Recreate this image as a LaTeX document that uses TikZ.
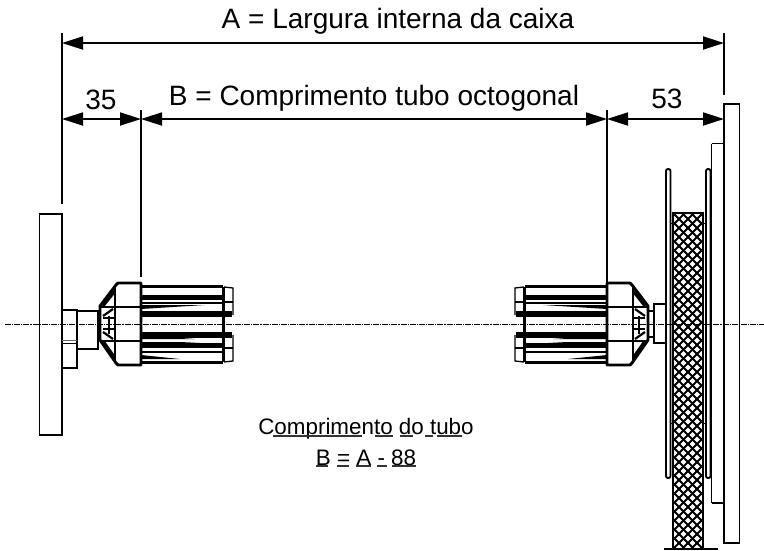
\documentclass[tikz,border=0pt]{standalone}
\usepackage{fontspec}
\setmainfont{Liberation Sans}
\usetikzlibrary{arrows.meta}
\tikzset{
	part/.style={line width=1.9pt},
	heavy/.style={line width=2.9pt},
	dimline/.style={line width=1.8pt,{Triangle[length=21pt,width=13pt]}-{Triangle[length=21pt,width=13pt]}},
	extline/.style={line width=1.8pt},
	bigtext/.style={font=\fontsize{28}{30}\selectfont,inner sep=0pt,anchor=base},
	smalltext/.style={font=\fontsize{22.4}{24}\selectfont,inner sep=0pt,anchor=base},
	underline/.style={line width=1.1pt,black!80}
}
\begin{document}
\begin{tikzpicture}
			[x=1pt,y=-1pt]
			\useasboundingbox (0,0) rectangle (764,550);
			
			\coordinate (a1) at (62,43);
			\coordinate (a2) at (724,43);
			\coordinate (b1) at (62,119);
			\coordinate (b2) at (141,119);
			\coordinate (b3) at (607,119);
			\coordinate (b4) at (724,119);
			\coordinate (e1) at (62,33);
			\coordinate (e1e) at (62,204);
			\coordinate (e2) at (141,110);
			\coordinate (e2e) at (141,277);
			\coordinate (e3) at (607,110);
			\coordinate (e3e) at (607,283);
			\coordinate (e4) at (724,33);
			\coordinate (e4e) at (724,95);
			\coordinate (c1) at (5,324);
			\coordinate (c2) at (764,324);
			
			\foreach \from/\to in {a1/a2,b1/b2,b2/b3,b3/b4}
			\draw[dimline] (\from) -- (\to);
			\foreach \from/\to in {e1/e1e,e2/e2e,e3/e3e,e4/e4e}
			\draw[extline] (\from) -- (\to);
			
			\node[bigtext] (lblA) at (398,28) {A = Largura interna da caixa};
			\node[bigtext] (lblB) at (374,105) {B = Comprimento tubo octogonal};
			\node[bigtext] (lbl35) at (101,109) {35};
			\node[bigtext] (lbl53) at (667,108) {53};
			\node[smalltext] (lblTube) at (366,434) {Comprimento do tubo};
			\node[smalltext] (lblForm) at (366,465) {B = A - 88};
			
			\foreach \xa/\xb/\yy in {273/362/436,375/393/436,400/413/436,425/433/436,437/462/436,316/328/466,337/349/466,356/371/466,377/387/466,392/416/466}
			\draw[underline] (\xa,\yy) -- (\xb,\yy);
			
			\draw[part] (39.5,214) rectangle (62,435);
			\draw[part] (62,310) rectangle (77,368);
			\draw[part] (77,311) rectangle (98,349);
			\draw[line width=.7pt,black!60] (62,340) -- (77,340);
			\draw[line width=1pt] (62,343) -- (77,343);
			
			\draw[part] (724,104) rectangle (739.5,543);
			\draw[part] (711.5,143.5) -- (724,143.5);
			\draw[part] (711.5,503) -- (724,503);
			\draw[part] (711.5,143.5) -- (711.5,503);
			\draw[part,rounded corners=2pt] (666,478) rectangle (670.5,169);
			\draw[part,rounded corners=2pt] (706,478) rectangle (710.5,169);
			\draw[part] (654,304) rectangle (666,343);
			\draw[part] (648,311) -- (654,311);
			\draw[part] (648,337) -- (654,337);
			
			\begin{scope}
				\clip (673,213) rectangle (703,549);
				\foreach \k in {177,186,...,555}
				{
					\draw[line width=2.1pt] (673,\k) -- (703,\k+30);
					\draw[line width=2.1pt] (673,\k+30) -- (703,\k);
				}
			\end{scope}
			\draw[heavy] (673,213) rectangle (703,549);
			\draw[part] (664,549) -- (718,549);
			\foreach \yy in {223,423}
			{
				\draw[line width=1pt] (670.5,\yy) -- (673,\yy);
				\draw[line width=1pt] (703,\yy) -- (706,\yy);
			}
			
			\foreach \side/\move in {1/0,-1/748}
			{
				\begin{scope}[xshift=\move pt,xscale=\side]
					\draw[heavy,line join=round] (141,283) -- (118,283) -- (116,285) -- (100,306) -- (100,340) -- (116,363) -- (118,365) -- (141,365) -- cycle;
					\draw[heavy] (115,285) -- (115,363);
					\draw[heavy] (100,307) -- (141,307);
					\draw[heavy] (102,341) -- (141,341);
					\draw[part] (109,316) -- (109,334);
					\draw[part] (103,318) -- (115,318);
					\draw[part] (103,329) -- (115,329);
					\draw[heavy] (115,291) -- (103,306);
					\draw[heavy] (115,358) -- (103,341);
					\draw[line width=2.2pt] (103,316) -- (113,309);
					\draw[line width=2.2pt] (103,332) -- (113,339);
					
					\foreach \yy/\lw in {286.5/3,297/5,303/2.5,345/5,352/2.5,362.5/3}
					\draw[line width=\lw pt] (141,\yy) -- (223,\yy);
					\foreach \yy/\lw in {314/6,334.5/6}
					\draw[line width=\lw pt] (141,\yy) -- (232,\yy);
					\foreach \yy/\tip/\dir in {285/190/3,305/205/4,339/195/-4,342/200/3,359/180/-4}
					\fill (141,\yy) -- (\tip,\yy) -- (141,\yy+\dir) -- cycle;
					
					\draw[line width=1.3pt] (224,287) -- (233,288) -- (233,315);
					\draw[line width=1.3pt] (233,335) -- (233,361) -- (224,362);
					\draw[line width=2.4pt] (223.5,287) -- (223.5,362);
					\foreach \yy in {302,348}
					\draw[line width=1.3pt] (223,\yy) -- (233,\yy);
				\end{scope}
			}
			
			\draw[line width=1pt,dash pattern=on 6pt off 1pt on 1.2pt off 1pt] (c1) -- (c2);
\end{tikzpicture}
\end{document}
